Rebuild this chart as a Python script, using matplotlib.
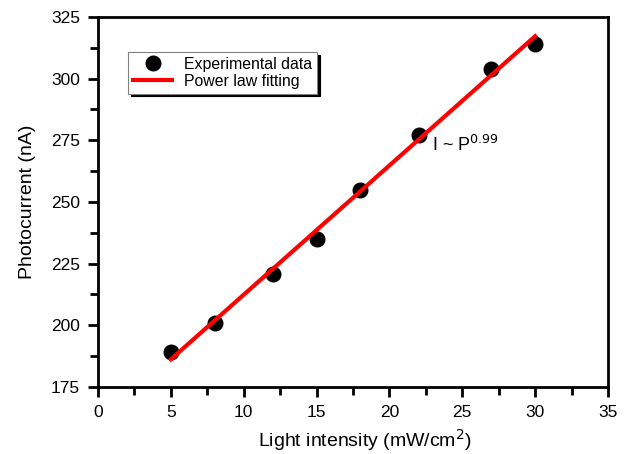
import matplotlib
matplotlib.use('Agg')
import matplotlib.pyplot as plt
from matplotlib.ticker import MultipleLocator

plt.rcParams['font.family'] = ['Liberation Sans', 'DejaVu Sans']

# measured points
intensity = [5, 8, 12, 15, 18, 22, 27, 30]
current = [189, 201, 221, 235, 255, 277, 304, 314]

# fitted line ends
fit_x = [5, 30]
fit_y = [186.2, 317.2]

fig = plt.figure(figsize=(6.29, 4.54), dpi=100)
ax = fig.add_axes([0.1558, 0.1476, 0.8108, 0.815])

ax.plot(intensity, current, 'o', color='black', markersize=10.5,
        label='Experimental data', zorder=2)
ax.plot(fit_x, fit_y, '-', color='red', linewidth=3, label='Power law fitting', zorder=3)

ax.set_xlim(0, 35)
ax.set_ylim(175, 325)
ax.xaxis.set_major_locator(MultipleLocator(5))
ax.xaxis.set_minor_locator(MultipleLocator(2.5))
ax.yaxis.set_major_locator(MultipleLocator(25))
ax.yaxis.set_minor_locator(MultipleLocator(12.5))

for s in ax.spines.values():
    s.set_linewidth(2)
ax.tick_params(which='major', direction='out', length=7, width=2, labelsize=12.5, pad=6)
ax.tick_params(which='minor', direction='out', length=5.5, width=2)

ax.set_xlabel('Light intensity (mW/cm$^2$)', fontsize=14)
ax.set_ylabel('Photocurrent (nA)', fontsize=14)
ax.xaxis.set_label_coords(0.523, -0.108)
ax.yaxis.set_label_coords(-0.122, 0.5)

ax.text(22.9, 273, r'I ~ P$^{0.99}$', fontsize=13, va='center', ha='left')

leg = ax.legend(loc='upper left', bbox_to_anchor=(0.059, 0.906), borderaxespad=0,
                fontsize=11.4, fancybox=False, shadow={'color': 'black', 'alpha': 1},
                edgecolor='gray', framealpha=1, borderpad=0.3,
                handlelength=2.5, handletextpad=0.75, labelspacing=0.15)
leg.get_frame().set_linewidth(0.8)

fig.savefig('out.png', dpi=100)
